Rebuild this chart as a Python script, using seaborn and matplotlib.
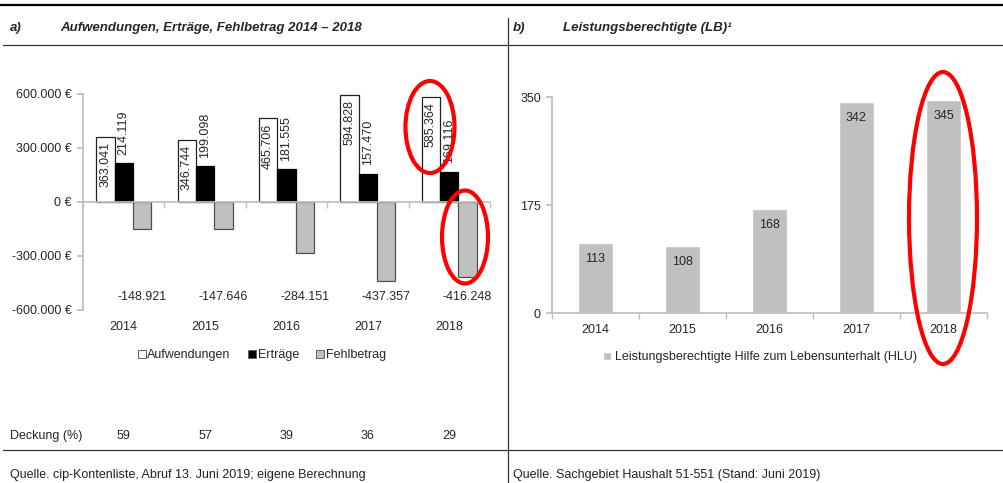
import numpy as np
import pandas as pd
import matplotlib.pyplot as plt
import seaborn as sns
from matplotlib.lines import Line2D
from matplotlib.patches import Ellipse
import matplotlib.transforms as mtransforms

sns.set_theme(style="white")
plt.rcParams['font.family'] = ['Liberation Sans', 'DejaVu Sans']

# data
jahre = ['2014', '2015', '2016', '2017', '2018']
aufwendungen = [363041, 346744, 465706, 594828, 585364]
ertraege = [214119, 199098, 181555, 157470, 169116]
fehlbetrag = [-148921, -147646, -284151, -437357, -416248]
deckung = [59, 57, 39, 36, 29]
reihen = ['Aufwendungen', 'Erträge', 'Fehlbetrag']

lb_jahre = ['2014', '2015', '2016', '2017', '2018']
lb_werte = [113, 108, 168, 342, 345]
lb_label = 'Leistungsberechtigte Hilfe zum Lebensunterhalt (HLU)'

df = pd.DataFrame({
    'Jahr': jahre * 3,
    'Reihe': [r for r in reihen for _ in jahre],
    'Wert': aufwendungen + ertraege + fehlbetrag,
})

W, H = 1004, 483
fig = plt.figure(figsize=(W / 100, H / 100), dpi=100)

def fx(px):
    return px / W

def fy(py):
    return 1 - py / H

axis_grey = '#bfbfbf'
fs = 9

def de(v):
    return f"{v:,}".replace(',', '.')

# ---------- chart a) ----------
ax1 = fig.add_axes([fx(83), fy(310), fx(490) - fx(83), fy(94) - fy(310)])
sns.barplot(data=df, x='Jahr', y='Wert', hue='Reihe', hue_order=reihen,
            palette=['white', 'black', '#c0c0c0'], width=0.675, gap=0,
            ax=ax1, legend=True)
edge = {0: '#202020', 1: 'black', 2: '#505050'}
for i, cont in enumerate(ax1.containers):
    for p in cont:
        p.set_edgecolor(edge[i])
        p.set_linewidth(0.9)

ax1.set_ylim(-600000, 600000)
ax1.set_xlim(-0.5, 4.5)
yt = [-600000, -300000, 0, 300000, 600000]
ax1.set_yticks(yt)
ax1.set_yticklabels([de(v) + ' €' for v in yt])
ax1.set_xlabel('')
ax1.set_ylabel('')
for s in ['top', 'right']:
    ax1.spines[s].set_visible(False)
ax1.spines['left'].set_color(axis_grey)
ax1.spines['bottom'].set_position(('data', 0))
ax1.spines['bottom'].set_color(axis_grey)
ax1.tick_params(axis='y', left=True, length=4, color=axis_grey, labelsize=fs, pad=4)
ax1.set_xticks(np.arange(-0.5, 5, 1), minor=True)
ax1.tick_params(axis='x', which='major', bottom=False, labelbottom=False)
ax1.tick_params(axis='x', which='minor', bottom=True, length=4, color=axis_grey)

year_ax = ax1.secondary_xaxis('bottom')
year_ax.set_xticks(range(len(jahre)))
year_ax.set_xticklabels(jahre)
year_ax.tick_params(axis='x', length=0, labelsize=fs, pad=8)
year_ax.spines['bottom'].set_visible(False)

# value labels
for p, v in zip(ax1.containers[0], aufwendungen):
    ax1.annotate(de(v), (p.get_x() + p.get_width() / 2, p.get_height()),
                 xytext=(0, -4), textcoords='offset points', rotation=90,
                 ha='center', va='top', fontsize=fs)
for p, v in zip(ax1.containers[1], ertraege):
    ax1.annotate(de(v), (p.get_x() + p.get_width() / 2, p.get_height()),
                 xytext=(0, 6), textcoords='offset points', rotation=90,
                 ha='center', va='bottom', fontsize=fs)
for p, v in zip(ax1.containers[2], fehlbetrag):
    ax1.text(p.get_x() + p.get_width() / 2, -530000, de(v),
             ha='center', va='center', fontsize=fs)

handles, labels = ax1.get_legend_handles_labels()
leg = ax1.legend(handles, labels, loc='center', bbox_to_anchor=(fx(262), fy(355)),
                 bbox_transform=fig.transFigure, ncol=3, frameon=False, fontsize=fs,
                 handlelength=0.6, handleheight=0.6, handletextpad=0.15, columnspacing=1.4)
for h in leg.legend_handles:
    h.set_edgecolor('#606060')
    h.set_linewidth(0.7)

# Deckung row
trans = mtransforms.blended_transform_factory(ax1.transData, fig.transFigure)
fig.text(fx(10), fy(436), 'Deckung (%)', ha='left', va='center', fontsize=fs)
for i, d in enumerate(deckung):
    ax1.text(i, fy(436), str(d), transform=trans, ha='center', va='center', fontsize=fs)

# ---------- chart b) ----------
ax2 = fig.add_axes([fx(552), fy(313), fx(987) - fx(552), fy(97) - fy(313)])
sns.barplot(x=lb_jahre, y=lb_werte, color='#c0c0c0', saturation=1, width=0.4,
            ax=ax2, label=lb_label)
ax2.set_ylim(0, 350)
ax2.set_xlim(-0.5, 4.5)
ax2.set_yticks([0, 175, 350])
for s in ['top', 'right']:
    ax2.spines[s].set_visible(False)
ax2.spines['left'].set_color(axis_grey)
ax2.spines['bottom'].set_color(axis_grey)
ax2.set_xticks(np.arange(-0.5, 5, 1), minor=True)
ax2.tick_params(axis='x', which='major', length=0, labelsize=fs, pad=8)
ax2.tick_params(axis='x', which='minor', bottom=True, length=4, color=axis_grey)
ax2.tick_params(axis='y', left=True, length=4, color=axis_grey, labelsize=fs, pad=4)
for p, v in zip(ax2.containers[0], lb_werte):
    ax2.annotate(str(v), (p.get_x() + p.get_width() / 2, p.get_height()),
                 xytext=(0, -7), textcoords='offset points',
                 ha='center', va='top', fontsize=fs)
h2, l2 = ax2.get_legend_handles_labels()
ax2.legend(h2, l2, loc='center', bbox_to_anchor=(fx(760), fy(357)),
           bbox_transform=fig.transFigure, frameon=False, fontsize=fs,
           handlelength=0.6, handleheight=0.6, handletextpad=0.3)

# ---------- frame, titles, sources ----------
fig.add_artist(Line2D([0, 1], [fy(5), fy(5)], color='black', lw=1.6))
fig.add_artist(Line2D([fx(3), 1], [fy(45), fy(45)], color='#333333', lw=0.9))
fig.add_artist(Line2D([fx(3), 1], [fy(450), fy(450)], color='#333333', lw=0.9))
fig.add_artist(Line2D([fx(508), fx(508)], [fy(18), 0], color='#333333', lw=0.9))

title_kw = dict(fontsize=9.5, fontweight='bold', fontstyle='italic', va='center')
fig.text(fx(10), fy(28), 'a)', **title_kw)
fig.text(fx(60), fy(28), 'Aufwendungen, Erträge, Fehlbetrag 2014 – 2018', **title_kw)
fig.text(fx(513), fy(28), 'b)', **title_kw)
fig.text(fx(563), fy(28), 'Leistungsberechtigte (LB)¹', **title_kw)

fig.text(fx(10), fy(475), 'Quelle. cip-Kontenliste, Abruf 13. Juni 2019; eigene Berechnung',
         fontsize=fs, va='center', color='#222222')
fig.text(fx(513), fy(475), 'Quelle. Sachgebiet Haushalt 51-551 (Stand: Juni 2019)',
         fontsize=fs, va='center', color='#222222')

# red highlight ellipses
for cx, cy, w, h in [(430, 127, 49, 92), (465, 237, 46, 93), (943, 218, 68, 292)]:
    fig.add_artist(Ellipse((fx(cx), fy(cy)), fx(w), h / H, transform=fig.transFigure,
                           fill=False, edgecolor='red', lw=3))

fig.savefig('out.png', dpi=100)
